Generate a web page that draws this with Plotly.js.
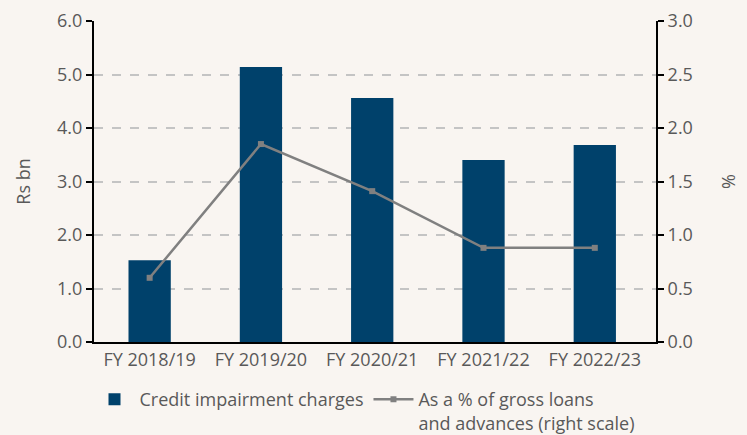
<!DOCTYPE html>
<html><head><meta charset="utf-8">
<script src="https://cdn.plot.ly/plotly-3.0.1.min.js"></script>
<style>html,body{margin:0;padding:0;background:#f9f5f1;}</style>
</head><body>
<div id="chart" style="width:747px;height:435px;"></div>
<script>
const categories = ["FY 2018/19","FY 2019/20","FY 2020/21","FY 2021/22","FY 2022/23"];
const impairmentCharges = [1.53, 5.14, 4.56, 3.40, 3.68];
const pctOfGrossLoans = [0.60, 1.85, 1.41, 0.88, 0.88];
const leftTicks = [0,1,2,3,4,5,6];
const rightTicks = [0,0.5,1,1.5,2,2.5,3];

const font = {family: "Open Sans, sans-serif", size: 18, color: "#595959"};
const traces = [
  {type:"bar", x:categories, y:impairmentCharges, name:"Credit impairment charges",
   marker:{color:"#00416b"}, yaxis:"y"},
  {type:"scatter", mode:"lines+markers", x:categories, y:pctOfGrossLoans,
   name:"As a % of gross loans<br>and advances (right scale)",
   line:{color:"#808080", width:2.5}, marker:{symbol:"square", size:6, color:"#808080"}, yaxis:"y2"}
];
const layout = {
  width:747, height:435,
  paper_bgcolor:"#f9f5f1", plot_bgcolor:"#f9f5f1",
  font: font,
  margin:{l:94, r:91, t:21, b:93, autoexpand:false},
  bargap:0.62,
  showlegend:true,
  legend:{orientation:"h", x:-0.008, xanchor:"left", y:-0.122, yanchor:"top", font:{size:18, color:"#595959"}, traceorder:"normal", valign:"top", itemwidth:40},
  xaxis:{range:[-0.5, 4.55], showline:true, linecolor:"#000", linewidth:2, ticks:"", tickfont:{size:18}},
  yaxis:{range:[0,6], tickvals:leftTicks, ticktext:leftTicks.map(v=>v.toFixed(1)),
    showline:true, linecolor:"#000", linewidth:2, ticks:"outside", ticklen:6, tickcolor:"#000", tickwidth:2,
    showgrid:true, gridcolor:"#c4c4c4", griddash:"dash", gridwidth:1.5, zeroline:false,
    title:{text:"Rs bn", standoff:22, font:{size:18}}},
  yaxis2:{range:[0,3], tickvals:rightTicks, ticktext:rightTicks.map(v=>v.toFixed(1)), overlaying:"y", side:"right",
    showline:true, linecolor:"#000", linewidth:2, ticks:"outside", ticklen:6, tickcolor:"#000", tickwidth:2,
    showgrid:false, zeroline:false,
    title:{text:"%", standoff:30, font:{size:18}}}
};
Plotly.newPlot("chart", traces, layout, {displayModeBar:false});
</script>
</body></html>
